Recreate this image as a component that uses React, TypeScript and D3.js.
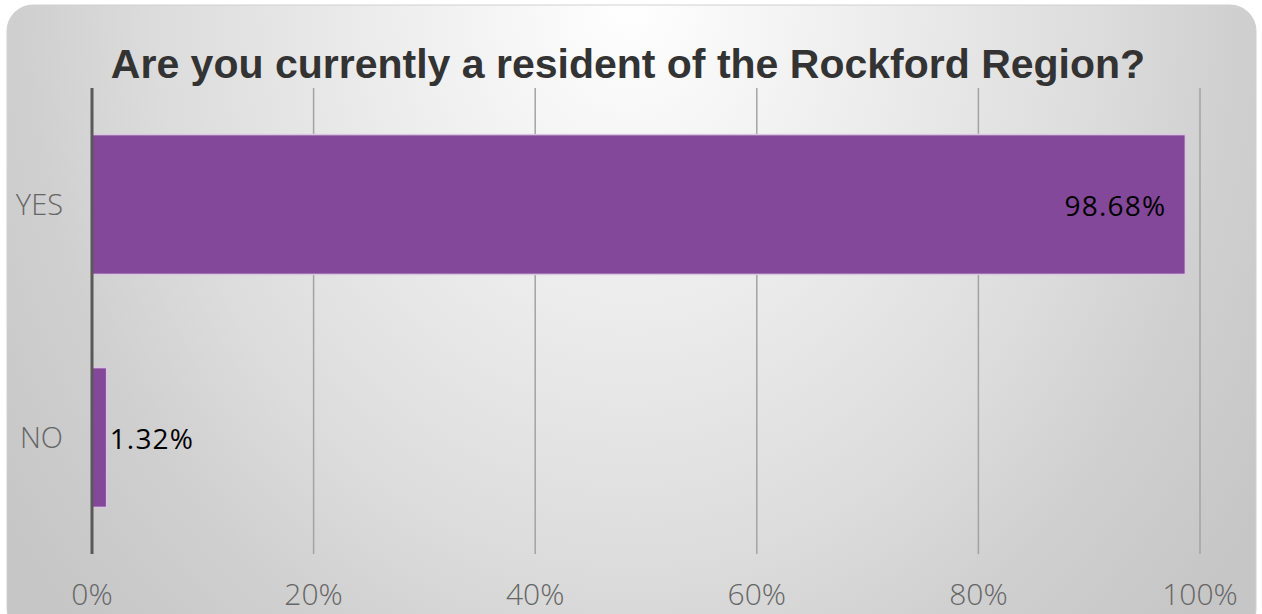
import React from "react";
import * as d3 from "d3";

const categories = ["YES", "NO"];
const values = [98.68, 1.32];
const valueLabels = ["98.68%", "1.32%"];
const ticks = [0, 20, 40, 60, 80, 100];
const title = "Are you currently a resident of the Rockford Region?";

const W = 1262;
const H = 614;

export default function App() {
  const x = d3.scaleLinear().domain([0, 100]).range([92, 1200]);
  const y = d3
    .scaleBand<string>()
    .domain(categories)
    .range([88, 554])
    .paddingInner(0.4)
    .paddingOuter(0.2);
  const font = "'Open Sans', 'DejaVu Sans', sans-serif";

  return (
    <svg
      width={W}
      height={H}
      style={{ position: "absolute", left: 0, top: 0 }}
    >
      <defs>
        <radialGradient
          id="bg"
          gradientUnits="userSpaceOnUse"
          cx={630}
          cy={0}
          r={760}
          gradientTransform="translate(630,0) scale(1,1.2) translate(-630,0)"
        >
          <stop offset="0" stopColor="#ffffff" />
          <stop offset="0.34" stopColor="#ececec" />
          <stop offset="0.625" stopColor="#dcdcdc" />
          <stop offset="0.79" stopColor="#d0d0d0" />
          <stop offset="1" stopColor="#c6c6c6" />
        </radialGradient>
      </defs>
      <rect x={0} y={0} width={W} height={H} fill="#ffffff" />
      <rect
        x={7}
        y={5}
        width={1249}
        height={630}
        rx={26}
        ry={26}
        fill="url(#bg)"
        stroke="#d0d0d0"
        strokeWidth={1}
      />
      <text
        x={628}
        y={78}
        textAnchor="middle"
        fontFamily="'Liberation Sans', Arial, sans-serif"
        fontWeight="bold"
        fontSize={41}
        fill="#333333"
      >
        {title}
      </text>
      {ticks.slice(1).map((t) => (
        <line
          key={t}
          x1={x(t)}
          x2={x(t)}
          y1={88}
          y2={554}
          stroke="#a3a3a3"
          strokeWidth={1.5}
        />
      ))}
      {categories.map((c, i) => (
        <rect
          key={c}
          x={x(0)}
          y={y(c)!}
          width={x(values[i]) - x(0)}
          height={y.bandwidth()}
          fill="#84489a"
          stroke="#d9c7e0"
          strokeWidth={1.5}
        />
      ))}
      <line
        x1={x(0)}
        x2={x(0)}
        y1={88}
        y2={554}
        stroke="#595959"
        strokeWidth={3}
      />
      {categories.map((c) => (
        <text
          key={c}
          x={63}
          y={y(c)! + y.bandwidth() / 2}
          dy="0.35em"
          textAnchor="end"
          fontFamily={font}
          fontWeight={300}
          fontSize={29}
          fill="#666666"
        >
          {c}
        </text>
      ))}
      {categories.map((c, i) => {
        const inside = values[i] > 50;
        return (
          <text
            key={c + "v"}
            x={inside ? x(values[i]) - 19 : x(values[i]) + 3}
            y={y(c)! + y.bandwidth() / 2 + 2}
            dy="0.35em"
            textAnchor={inside ? "end" : "start"}
            fontFamily={font}
            fontSize={28}
            letterSpacing={1.2}
            fill="#000000"
          >
            {valueLabels[i]}
          </text>
        );
      })}
      {ticks.map((t) => (
        <text
          key={t}
          x={x(t)}
          y={605}
          textAnchor="middle"
          fontFamily={font}
          fontWeight={300}
          fontSize={30}
          fill="#666666"
        >
          {t + "%"}
        </text>
      ))}
    </svg>
  );
}
